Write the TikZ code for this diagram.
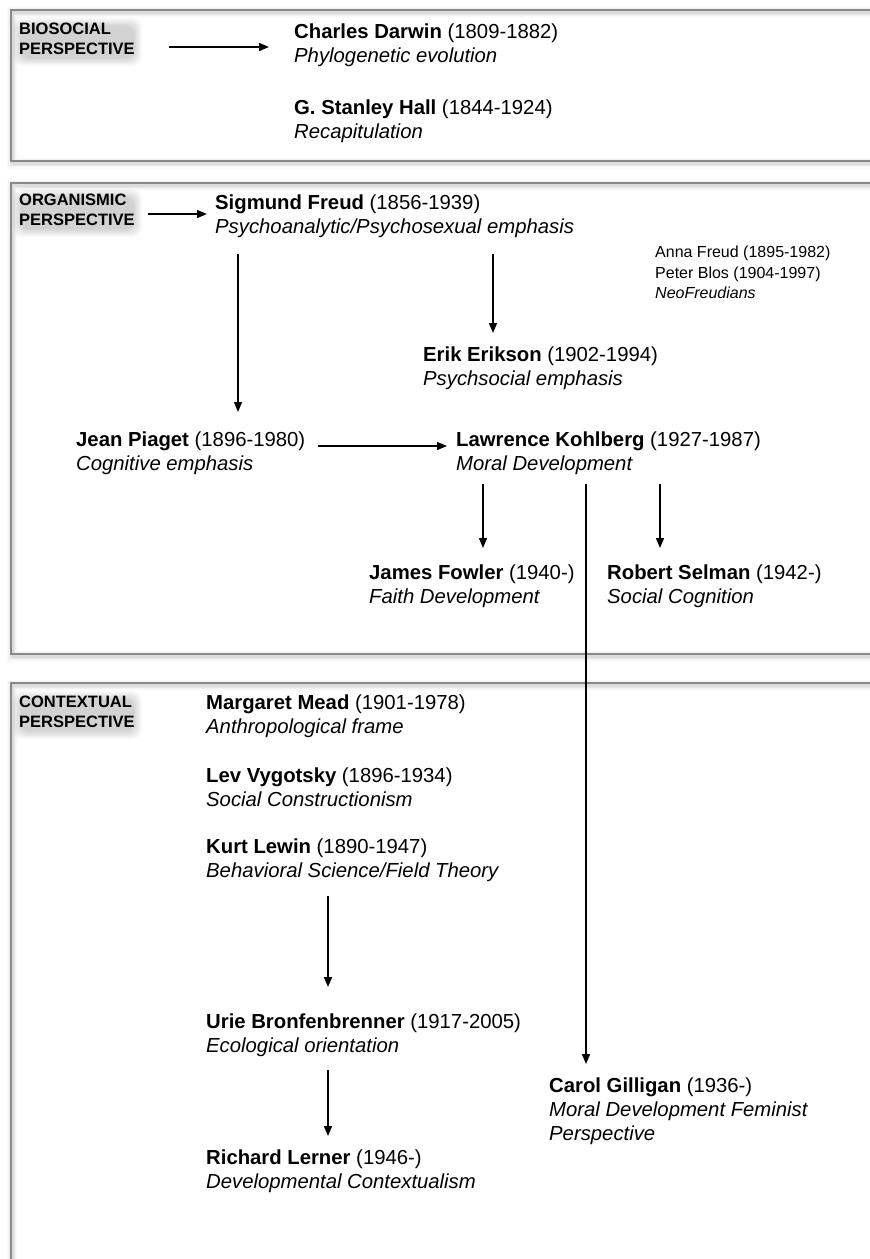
\documentclass[tikz,border=0pt]{standalone}
\usepackage{fontspec}
\setmainfont{Liberation Sans}
\usetikzlibrary{arrows.meta}
\definecolor{boxgray}{RGB}{136,136,136}
\pgfdeclarelayer{bg}
\pgfsetlayers{bg,main}
\newcommand{\softbox}[2]{%
  \foreach \w/\o in {11/0.02,8/0.03,5/0.04,3/0.05}{%
    \draw[black,opacity=\o,line width=\w pt] ([shift={(1,2)}]#1) rectangle ([shift={(1,2)}]#2);}
  \draw[boxline] (#1) rectangle (#2);}
\newcommand{\glowlabel}[1]{%
  \foreach \a in {0,1,2,3,4,5,6,7,8}{%
    \fill[black,opacity=0.021,rounded corners=9pt] ([shift={(-\a+2,-\a+3)}]#1.north west) rectangle ([shift={(\a-1,\a+3)}]#1.south east);}}
\begin{document}
\begin{tikzpicture}[x=1pt,y=-1pt,
  boxline/.style={draw=boxgray,line width=1.7pt},
  arr/.style={-{Triangle[length=10pt,width=8pt]},line width=1.4pt},
  person/.style={anchor=north west,inner sep=0pt,align=left,font=\fontsize{20.3}{24}\selectfont},
  persp/.style={anchor=north west,inner sep=0pt,align=left,font=\fontsize{16.5}{20}\selectfont\bfseries},
  minor/.style={anchor=north west,inner sep=0pt,align=left,font=\fontsize{16}{20.5}\selectfont}]
\useasboundingbox (0,0) rectangle (870,1259);
\clip (0,0) rectangle (870,1259);
\begin{pgfonlayer}{bg}
\fill[white] (0,0) rectangle (870,1259);
\end{pgfonlayer}

% boxes
\coordinate (b1a) at (11,10);  \coordinate (b1b) at (885,161);
\coordinate (b2a) at (11,183); \coordinate (b2b) at (885,654);
\coordinate (b3a) at (11,683); \coordinate (b3b) at (885,1290);
\softbox{b1a}{b1b}
\softbox{b2a}{b2b}
\softbox{b3a}{b3b}

% perspective labels
\node[persp] (bio) at (19,23) {BIOSOCIAL\\PERSPECTIVE};
\node[persp] (org) at (19,194) {ORGANISMIC\\PERSPECTIVE};
\node[persp] (ctx) at (19,696) {CONTEXTUAL\\PERSPECTIVE};

% people
\node[person] (darwin) at (294,24) {\textbf{Charles Darwin} (1809-1882)\\\textit{Phylogenetic evolution}};
\node[person] (hall) at (294,100) {\textbf{G. Stanley Hall} (1844-1924)\\\textit{Recapitulation}};
\node[person] (freud) at (215,195) {\textbf{Sigmund Freud} (1856-1939)\\\textit{Psychoanalytic/Psychosexual emphasis}};
\node[minor] (anna) at (655,246) {Anna Freud (1895-1982)\\Peter Blos (1904-1997)\\\textit{NeoFreudians}};
\node[person] (erikson) at (423,347) {\textbf{Erik Erikson} (1902-1994)\\\textit{Psychsocial emphasis}};
\node[person] (piaget) at (76,432) {\textbf{Jean Piaget} (1896-1980)\\\textit{Cognitive emphasis}};
\node[person] (kohlberg) at (456,432) {\textbf{Lawrence Kohlberg} (1927-1987)\\\textit{Moral Development}};
\node[person] (fowler) at (369,565) {\textbf{James Fowler} (1940-)\\\textit{Faith Development}};
\node[person] (selman) at (607,565) {\textbf{Robert Selman} (1942-)\\\textit{Social Cognition}};
\node[person] (mead) at (206,695) {\textbf{Margaret Mead} (1901-1978)\\\textit{Anthropological frame}};
\node[person] (vygotsky) at (206,768) {\textbf{Lev Vygotsky} (1896-1934)\\\textit{Social Constructionism}};
\node[person] (lewin) at (206,839) {\textbf{Kurt Lewin} (1890-1947)\\\textit{Behavioral Science/Field Theory}};
\node[person] (bronf) at (206,1014) {\textbf{Urie Bronfenbrenner} (1917-2005)\\\textit{Ecological orientation}};
\node[person] (lerner) at (206,1150) {\textbf{Richard Lerner} (1946-)\\\textit{Developmental Contextualism}};
\node[person] (gilligan) at (549,1078) {\textbf{Carol Gilligan} (1936-)\\\textit{Moral Development Feminist}\\\textit{Perspective}};

% soft glow behind the labels
\begin{pgfonlayer}{bg}
\glowlabel{bio}
\glowlabel{org}
\glowlabel{ctx}
\end{pgfonlayer}

% helper rows and columns
\coordinate (r47) at (0,47);
\coordinate (r214) at (0,214);
\coordinate (r446) at (0,446);
\coordinate (c238) at (238,0);
\coordinate (c493) at (493,0);
\coordinate (c483) at (483,0);
\coordinate (c660) at (660,0);
\coordinate (c586) at (586,0);
\coordinate (c328) at (328,0);

% connectors
\draw[arr,shorten <=34pt,shorten >=25pt] (bio.east |- r47) -- (darwin.west |- r47);
\draw[arr,shorten <=13pt,shorten >=8pt] (org.east |- r214) -- (freud.west |- r214);
\draw[arr,shorten <=16pt,shorten >=20pt] (freud.south -| c238) -- (piaget.north -| c238);
\draw[arr,shorten <=16pt,shorten >=14pt] (freud.south -| c493) -- (erikson.north -| c493);
\draw[arr,shorten <=13pt,shorten >=9pt] (piaget.east |- r446) -- (kohlberg.west |- r446);
\draw[arr,shorten <=9pt,shorten >=17pt] (kohlberg.south -| c483) -- (fowler.north -| c483);
\draw[arr,shorten <=9pt,shorten >=17pt] (kohlberg.south -| c660) -- (selman.north -| c660);
\draw[arr,shorten <=9pt,shorten >=14pt] (kohlberg.south -| c586) -- (gilligan.north -| c586);
\draw[arr,shorten <=14pt,shorten >=27pt] (lewin.south -| c328) -- (bronf.north -| c328);
\draw[arr,shorten <=13pt,shorten >=14pt] (bronf.south -| c328) -- (lerner.north -| c328);
\end{tikzpicture}
\end{document}
